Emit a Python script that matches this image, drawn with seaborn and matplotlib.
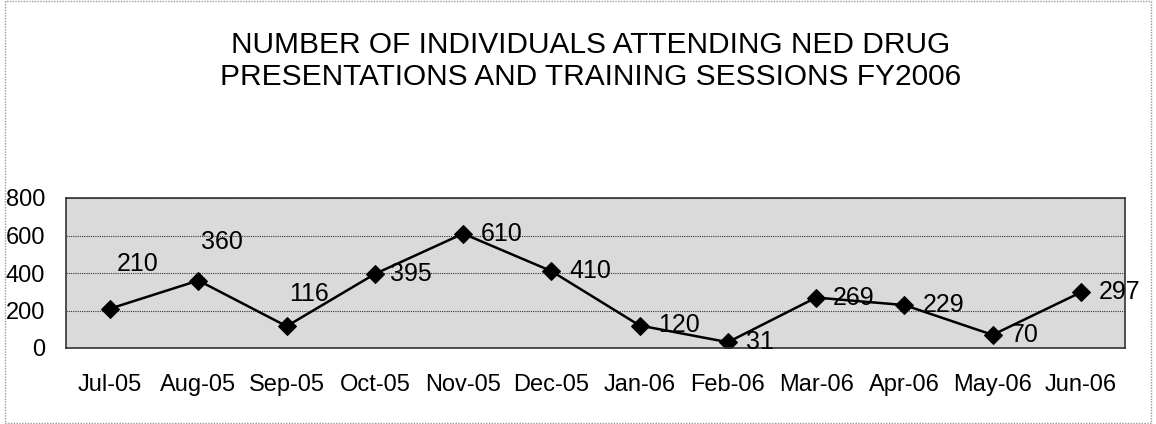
import matplotlib
matplotlib.use("Agg")
import matplotlib.pyplot as plt
import pandas as pd
import seaborn as sns

months = ["Jul-05", "Aug-05", "Sep-05", "Oct-05", "Nov-05", "Dec-05",
          "Jan-06", "Feb-06", "Mar-06", "Apr-06", "May-06", "Jun-06"]
attendees = [210, 360, 116, 395, 610, 410, 120, 31, 269, 229, 70, 297]

# label offsets in points (style only), mimicking the hand-placed labels
label_offsets = [(5, 32), (2, 28), (1.5, 23), (11, 0), (13, 0), (13, 0),
                 (13, 0), (13, 0), (12, 0), (13, 0), (13, 0), (13, 0)]

sns.set_style("white")
plt.rcParams['font.family'] = ['Liberation Sans', 'DejaVu Sans']

df = pd.DataFrame({"month": months, "count": attendees})

fig = plt.figure(figsize=(11.56, 4.24), dpi=100)
ax = fig.add_axes([66 / 1156, 1 - 348 / 424, (1125 - 66) / 1156, (348 - 198) / 424])

ax.set_facecolor("#dadada")
sns.lineplot(data=df, x="month", y="count", ax=ax, color="black", linewidth=1.8,
             marker="D", markersize=9, markeredgecolor="black", sort=False)

for i, (v, off) in enumerate(zip(attendees, label_offsets)):
    ax.annotate(str(v), (i, v), xytext=off, textcoords="offset points",
                fontsize=18, ha="left", va="center", color="black",
                annotation_clip=False)

ax.set_xlim(-0.5, len(months) - 0.5)
ax.set_ylim(0, 800)
ax.set_yticks([0, 200, 400, 600, 800])
ax.yaxis.grid(True, color="#333333", linewidth=0.8, linestyle=(0, (1, 1)))
ax.set_axisbelow(True)
ax.set_xlabel("")
ax.set_ylabel("")
ax.tick_params(axis="both", labelsize=17, length=5, color="black", labelcolor="black")
ax.tick_params(axis="x", pad=14)
ax.tick_params(axis="y", pad=10)
ax.set_xticks(range(len(months)))
ax.set_xticklabels(months)
for s in ax.spines.values():
    s.set_color("#333333")
    s.set_linewidth(1.2)

fig.text(591 / 1156, 1 - 45 / 424, "NUMBER OF INDIVIDUALS ATTENDING NED DRUG",
         ha="center", va="center", fontsize=21.5, color="black")
fig.text(591 / 1156, 1 - 77 / 424, "PRESENTATIONS AND TRAINING SESSIONS FY2006",
         ha="center", va="center", fontsize=21.5, color="black")

# thin dotted frame around the whole chart
fig.patches.append(plt.Rectangle((0.004, 0.002), 0.992, 0.996, transform=fig.transFigure,
                                 fill=False, edgecolor="#999999", linewidth=1,
                                 linestyle=(0, (1, 1))))

fig.savefig("out.png", dpi=100)
